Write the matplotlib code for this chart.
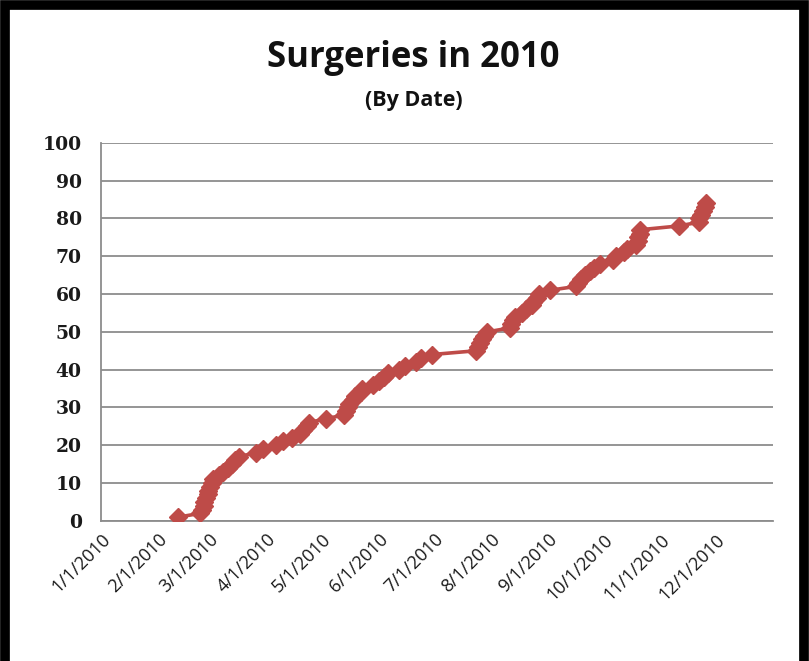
import datetime as dt
import matplotlib
matplotlib.use("Agg")
import matplotlib.pyplot as plt
import matplotlib.dates as mdates
from matplotlib.patches import Rectangle

# surgery dates (2010) and running count
surgeryDates = [
    "2010-02-12", "2010-02-24", "2010-02-25", "2010-02-26", "2010-02-26",
    "2010-02-27", "2010-02-28", "2010-02-28", "2010-03-01", "2010-03-02",
    "2010-03-03", "2010-03-06", "2010-03-08", "2010-03-11", "2010-03-13",
    "2010-03-15", "2010-03-17", "2010-03-26", "2010-03-30", "2010-04-06",
    "2010-04-10", "2010-04-15", "2010-04-19", "2010-04-21", "2010-04-23",
    "2010-04-24", "2010-05-03", "2010-05-13", "2010-05-14", "2010-05-15",
    "2010-05-16", "2010-05-18", "2010-05-19", "2010-05-22", "2010-05-23",
    "2010-05-29", "2010-06-01", "2010-06-04", "2010-06-06", "2010-06-12",
    "2010-06-15", "2010-06-21", "2010-06-24", "2010-06-30", "2010-07-24",
    "2010-07-25", "2010-07-26", "2010-07-27", "2010-07-28", "2010-07-30",
    "2010-08-11", "2010-08-12", "2010-08-13", "2010-08-14", "2010-08-18",
    "2010-08-20", "2010-08-23", "2010-08-24", "2010-08-26", "2010-08-27",
    "2010-09-02", "2010-09-16", "2010-09-17", "2010-09-19", "2010-09-21",
    "2010-09-24", "2010-09-26", "2010-09-29", "2010-10-06", "2010-10-08",
    "2010-10-12", "2010-10-14", "2010-10-19", "2010-10-20", "2010-10-20",
    "2010-10-21", "2010-10-21", "2010-11-11", "2010-11-22", "2010-11-22",
    "2010-11-23", "2010-11-24", "2010-11-25", "2010-11-26",
]
surgeryCount = [
    1, 2, 3, 4, 5, 6, 7, 8, 9, 10,
    11, 12, 13, 14, 15, 16, 17, 18, 19, 20,
    21, 22, 23, 24, 25, 26, 27, 28, 29, 30,
    31, 32, 33, 34, 35, 36, 37, 38, 39, 40,
    41, 42, 43, 44, 45, 46, 47, 48, 49, 50,
    51, 52, 53, 54, 55, 56, 57, 58, 59, 60,
    61, 62, 63, 64, 65, 66, 67, 68, 69, 70,
    71, 72, 73, 74, 75, 76, 77, 78, 79, 80,
    81, 82, 83, 84,
]
yTicks = [0, 10, 20, 30, 40, 50, 60, 70, 80, 90, 100]

x = [dt.datetime.strptime(d, "%Y-%m-%d") for d in surgeryDates]
monthTicks = [dt.datetime(2010, m, 1) for m in range(1, 13)]

fig = plt.figure(figsize=(8.09, 6.61), dpi=100)
ax = fig.add_axes([0.125, 0.212, 0.830, 0.572])

lineColor = "#BE4B48"
ax.plot(x, surgeryCount, color=lineColor, linewidth=2.6, marker="D",
        markersize=9.5, markeredgecolor=lineColor, markerfacecolor=lineColor, zorder=3)

ax.set_xlim(dt.datetime(2010, 1, 1), dt.datetime(2011, 1, 1))
ax.set_ylim(0, 100)
ax.set_yticks(yTicks)
ax.set_xticks(monthTicks)
ax.xaxis.set_major_formatter(plt.FuncFormatter(
    lambda v, p: "%d/%d/%d" % (mdates.num2date(v).month, mdates.num2date(v).day, mdates.num2date(v).year)))

# grid and spines
ax.grid(axis="y", color="#8C8C8C", linewidth=1.3)
ax.set_axisbelow(True)
for side in ["top", "right"]:
    ax.spines[side].set_visible(False)
for side in ["left", "bottom"]:
    ax.spines[side].set_color("#8C8C8C")
    ax.spines[side].set_linewidth(1.3)
ax.tick_params(axis="both", length=0)
ax.tick_params(axis="y", pad=14)
ax.tick_params(axis="x", pad=7)

for tick in ax.get_yticklabels():
    tick.set_fontname("DejaVu Serif")
    tick.set_fontweight("bold")
    tick.set_fontsize(13.5)
    tick.set_color("#1a1a1a")
for tick in ax.get_xticklabels():
    tick.set_fontname("Open Sans")
    tick.set_fontsize(13)
    tick.set_rotation(45)
    tick.set_ha("right")
    tick.set_rotation_mode("anchor")
    tick.set_color("#1a1a1a")

# titles
fig.text(0.511, 0.913, "Surgeries in 2010", ha="center", va="center",
         fontsize=25, fontweight="bold", fontname="Open Sans", color="#111111")
fig.text(0.511, 0.848, "(By Date)", ha="center", va="center",
         fontsize=15.5, fontweight="bold", fontname="Open Sans", color="#111111")

# black frame round the chart
fig.patches.append(Rectangle((0.006, -0.05), 0.988, 1.042, transform=fig.transFigure,
                             fill=False, edgecolor="black", linewidth=7))

fig.savefig("out.png", dpi=100)
